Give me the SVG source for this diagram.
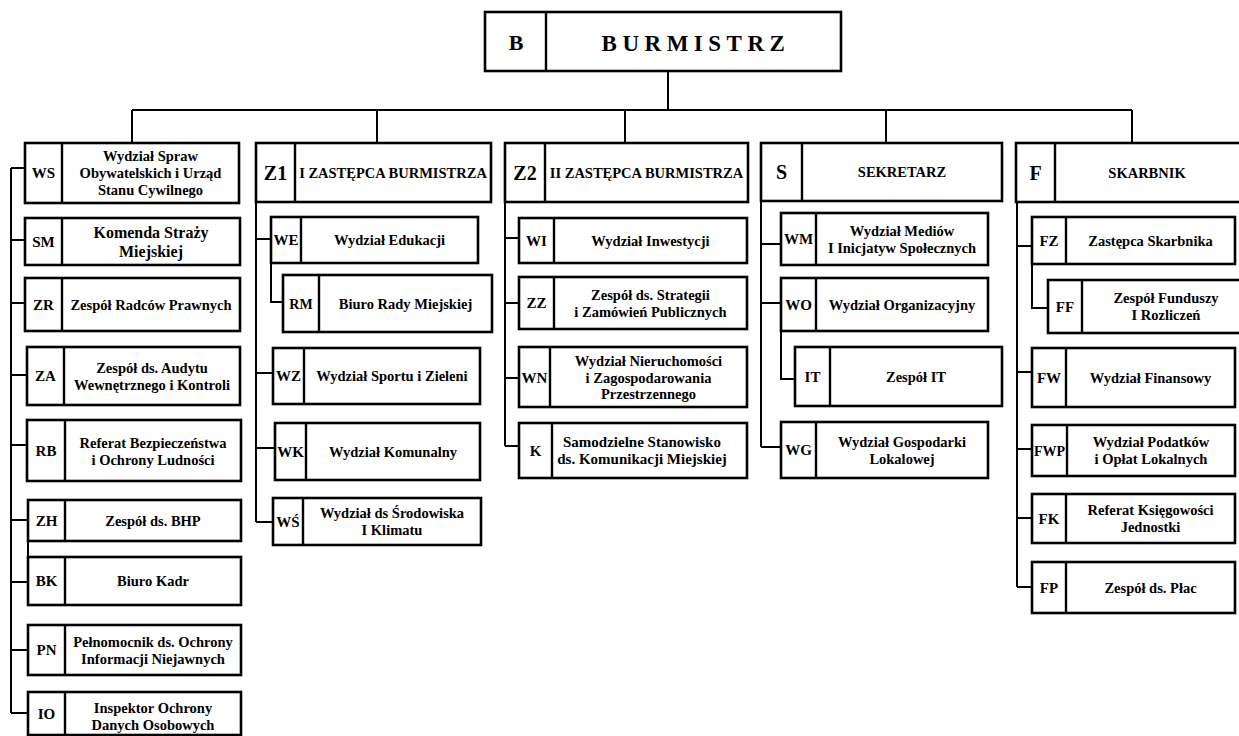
<svg xmlns="http://www.w3.org/2000/svg" width="1239" height="736" viewBox="0 0 1239 736">
<style>
.bx{fill:#fff;stroke:#000;stroke-width:2.6}
.dv{stroke:#000;stroke-width:2.4}
.cn{fill:none;stroke:#000;stroke-width:2}
text{font-family:"Liberation Serif","Times New Roman",serif;font-weight:bold;text-anchor:middle;fill:#000}
.a{font-size:15px}
.l{font-size:14.5px}
.h{font-size:14.5px}
.big{font-size:20px}
.sm{font-size:16px}
.ttl{font-size:23px;letter-spacing:5.5px}
</style>
<rect width="1239" height="736" fill="#fff"/>
<g id="connectors">
<path class="cn" d="M668 71V110M132 110H1132M132 110V143M377 110V143M625 110V143M886 110V143M1132 110V143"/>
<path class="cn" d="M11 168V713M11 168H25M11 240H25M11 303H25M11 375H27M11 445H27M11 520H28M11 582H28M11 650H28M11 713H28M28 541V557"/>
<path class="cn" d="M256 202V522M256 239H271M271 263V302H283M256 373H273M256 448H275M256 522H273"/>
<path class="cn" d="M505 202V446M505 238H519M505 303H519M505 378H519M505 446H519"/>
<path class="cn" d="M761 201V447M761 244H781M761 303H781M781 331V379H795M761 447H781"/>
<path class="cn" d="M1017 202V587M1017 246H1032M1032 264V308H1048M1017 372H1032M1017 449H1032M1017 518H1032M1017 587H1032"/>
</g>
<g id="B"><rect class="bx" x="485" y="12" width="356" height="59"/><line class="dv" x1="546" y1="12" x2="546" y2="71"/><text class="big" x="516" y="50" style="font-size:22px">B</text><text class="ttl" x="696" y="51">BURMISTRZ</text></g>

<g id="WS"><rect class="bx" x="25" y="143" width="214" height="60"/><line class="dv" x1="62" y1="143" x2="62" y2="203"/><text class="a" x="43.5" y="178">WS</text><text class="l" x="150.5" y="161">Wydział Spraw</text><text class="l" x="150.5" y="178">Obywatelskich i Urząd</text><text class="l" x="150.5" y="195">Stanu Cywilnego</text></g>
<g id="SM"><rect class="bx" x="25" y="218" width="215" height="47"/><line class="dv" x1="62" y1="218" x2="62" y2="265"/><text class="a" x="43.5" y="247">SM</text><text class="sm" x="151" y="237.5">Komenda Straży</text><text class="sm" x="151" y="256.5">Miejskiej</text></g>
<g id="ZR"><rect class="bx" x="25" y="278" width="215" height="53"/><line class="dv" x1="62" y1="278" x2="62" y2="331"/><text class="a" x="43.5" y="309.5">ZR</text><text class="l" x="151" y="309.5">Zespół Radców Prawnych</text></g>
<g id="ZA"><rect class="bx" x="27" y="347" width="213" height="58"/><line class="dv" x1="64" y1="347" x2="64" y2="405"/><text class="a" x="45.5" y="381">ZA</text><text class="l" x="152" y="373">Zespół ds. Audytu</text><text class="l" x="152" y="390">Wewnętrznego i Kontroli</text></g>
<g id="RB"><rect class="bx" x="27" y="420" width="214" height="61"/><line class="dv" x1="65" y1="420" x2="65" y2="481"/><text class="a" x="46" y="455.5">RB</text><text class="l" x="153" y="447.5">Referat Bezpieczeństwa</text><text class="l" x="153" y="464.5">i Ochrony Ludności</text></g>
<g id="ZH"><rect class="bx" x="28" y="500" width="213" height="41"/><line class="dv" x1="65" y1="500" x2="65" y2="541"/><text class="a" x="46.5" y="525.5">ZH</text><text class="l" x="153" y="525.5">Zespół ds. BHP</text></g>
<g id="BK"><rect class="bx" x="28" y="557" width="213" height="48"/><line class="dv" x1="65" y1="557" x2="65" y2="605"/><text class="a" x="46.5" y="586">BK</text><text class="l" x="153" y="586">Biuro Kadr</text></g>
<g id="PN"><rect class="bx" x="28" y="625" width="213" height="50"/><line class="dv" x1="65" y1="625" x2="65" y2="675"/><text class="a" x="46.5" y="655">PN</text><text class="l" x="153" y="646.5">Pełnomocnik ds. Ochrony</text><text class="l" x="153" y="663.5">Informacji Niejawnych</text></g>
<g id="IO"><rect class="bx" x="28" y="692" width="213" height="43"/><line class="dv" x1="65" y1="692" x2="65" y2="735"/><text class="a" x="46.5" y="719">IO</text><text class="l" x="153" y="713">Inspektor Ochrony</text><text class="l" x="153" y="730">Danych Osobowych</text></g>

<g id="Z1"><rect class="bx" x="256" y="143" width="235" height="59"/><line class="dv" x1="295" y1="143" x2="295" y2="202"/><text class="big" x="275.5" y="179.5">Z1</text><text class="h" x="393" y="177.5">I ZASTĘPCA BURMISTRZA</text></g>
<g id="WE"><rect class="bx" x="271" y="217" width="207" height="46"/><line class="dv" x1="301" y1="217" x2="301" y2="263"/><text class="a" x="286" y="245">WE</text><text class="l" x="389.5" y="245">Wydział Edukacji</text></g>
<g id="RM"><rect class="bx" x="283" y="275" width="209" height="57"/><line class="dv" x1="319" y1="275" x2="319" y2="332"/><text class="a" x="301" y="308.5" style="font-size:14px">RM</text><text class="l" x="405.5" y="308.5">Biuro Rady Miejskiej</text></g>
<g id="WZ"><rect class="bx" x="273" y="348" width="207" height="56"/><line class="dv" x1="304" y1="348" x2="304" y2="404"/><text class="a" x="288.5" y="381">WZ</text><text class="l" x="392" y="381">Wydział Sportu i Zieleni</text></g>
<g id="WK"><rect class="bx" x="275" y="423" width="205" height="57"/><line class="dv" x1="306" y1="423" x2="306" y2="480"/><text class="a" x="290.5" y="456.5">WK</text><text class="l" x="393" y="456.5">Wydział Komunalny</text></g>
<g id="WSR"><rect class="bx" x="273" y="498" width="208" height="47"/><line class="dv" x1="303" y1="498" x2="303" y2="545"/><text class="a" x="288" y="527">WŚ</text><text class="l" x="392" y="518">Wydział ds Środowiska</text><text class="l" x="392" y="535">I Klimatu</text></g>

<g id="Z2"><rect class="bx" x="505" y="143" width="243" height="59"/><line class="dv" x1="545" y1="143" x2="545" y2="202"/><text class="big" x="525" y="179.5">Z2</text><text class="h" x="646.5" y="177.5">II ZASTĘPCA BURMISTRZA</text></g>
<g id="WI"><rect class="bx" x="519" y="218" width="228" height="45"/><line class="dv" x1="554" y1="218" x2="554" y2="263"/><text class="a" x="536.5" y="245.5">WI</text><text class="l" x="650.5" y="245.5">Wydział Inwestycji</text></g>
<g id="ZZ"><rect class="bx" x="519" y="277" width="228" height="52"/><line class="dv" x1="554" y1="277" x2="554" y2="329"/><text class="a" x="536.5" y="308">ZZ</text><text class="l" x="650.5" y="299.5">Zespół ds. Strategii</text><text class="l" x="650.5" y="316.5">i Zamówień Publicznych</text></g>
<g id="WN"><rect class="bx" x="519" y="347" width="228" height="60"/><line class="dv" x1="550" y1="347" x2="550" y2="407"/><text class="a" x="534.5" y="382.5">WN</text><text class="l" x="648.5" y="366">Wydział Nieruchomości</text><text class="l" x="648.5" y="382.5">i Zagospodarowania</text><text class="l" x="648.5" y="399">Przestrzennego</text></g>
<g id="K"><rect class="bx" x="519" y="423" width="228" height="55"/><line class="dv" x1="552" y1="423" x2="552" y2="478"/><text class="a" x="535.5" y="455.5">K</text><text class="l" x="642" y="447" style="font-size:15px">Samodzielne Stanowisko</text><text class="l" x="642" y="464" style="font-size:15px">ds. Komunikacji Miejskiej</text></g>

<g id="S"><rect class="bx" x="761" y="143" width="241" height="58"/><line class="dv" x1="802" y1="143" x2="802" y2="201"/><text class="big" x="781.5" y="179">S</text><text class="h" x="902" y="177">SEKRETARZ</text></g>
<g id="WM"><rect class="bx" x="781" y="213" width="207" height="52"/><line class="dv" x1="816" y1="213" x2="816" y2="265"/><text class="a" x="798.5" y="244">WM</text><text class="l" x="902" y="235.5">Wydział Mediów</text><text class="l" x="902" y="252.5">I Inicjatyw Społecznych</text></g>
<g id="WO"><rect class="bx" x="781" y="278" width="207" height="53"/><line class="dv" x1="816" y1="278" x2="816" y2="331"/><text class="a" x="798.5" y="309.5">WO</text><text class="l" x="902" y="309.5">Wydział Organizacyjny</text></g>
<g id="IT"><rect class="bx" x="795" y="347" width="207" height="59"/><line class="dv" x1="830" y1="347" x2="830" y2="406"/><text class="a" x="812.5" y="381.5">IT</text><text class="l" x="916" y="381.5">Zespół IT</text></g>
<g id="WG"><rect class="bx" x="781" y="422" width="207" height="56"/><line class="dv" x1="816" y1="422" x2="816" y2="478"/><text class="a" x="798.5" y="455">WG</text><text class="l" x="902" y="446.5">Wydział Gospodarki</text><text class="l" x="902" y="463.5">Lokalowej</text></g>

<g id="F"><rect class="bx" x="1016" y="143" width="240" height="59"/><line class="dv" x1="1055" y1="143" x2="1055" y2="202"/><text class="big" x="1035.5" y="179.5">F</text><text class="h" x="1147" y="177.5">SKARBNIK</text></g>
<g id="FZ"><rect class="bx" x="1032" y="217" width="203" height="47"/><line class="dv" x1="1066" y1="217" x2="1066" y2="264"/><text class="a" x="1049" y="245.5">FZ</text><text class="l" x="1150.5" y="245.5">Zastępca Skarbnika</text></g>
<g id="FF"><rect class="bx" x="1048" y="280" width="202" height="53"/><line class="dv" x1="1082" y1="280" x2="1082" y2="333"/><text class="a" x="1065" y="311.5">FF</text><text class="l" x="1166" y="303">Zespół Funduszy</text><text class="l" x="1166" y="320">I Rozliczeń</text></g>
<g id="FW"><rect class="bx" x="1032" y="348" width="203" height="59"/><line class="dv" x1="1066" y1="348" x2="1066" y2="407"/><text class="a" x="1049" y="382.5">FW</text><text class="l" x="1150.5" y="382.5">Wydział Finansowy</text></g>
<g id="FWP"><rect class="bx" x="1032" y="425" width="203" height="51"/><line class="dv" x1="1067" y1="425" x2="1067" y2="476"/><text class="a" x="1049.5" y="455.5" style="font-size:14px">FWP</text><text class="l" x="1151" y="447">Wydział Podatków</text><text class="l" x="1151" y="464">i Opłat Lokalnych</text></g>
<g id="FK"><rect class="bx" x="1032" y="494" width="203" height="49"/><line class="dv" x1="1066" y1="494" x2="1066" y2="543"/><text class="a" x="1049" y="523.5">FK</text><text class="l" x="1150.5" y="515">Referat Księgowości</text><text class="l" x="1150.5" y="532">Jednostki</text></g>
<g id="FP"><rect class="bx" x="1032" y="562" width="203" height="51"/><line class="dv" x1="1066" y1="562" x2="1066" y2="613"/><text class="a" x="1049" y="592.5">FP</text><text class="l" x="1150.5" y="592.5">Zespół ds. Płac</text></g>
</svg>
